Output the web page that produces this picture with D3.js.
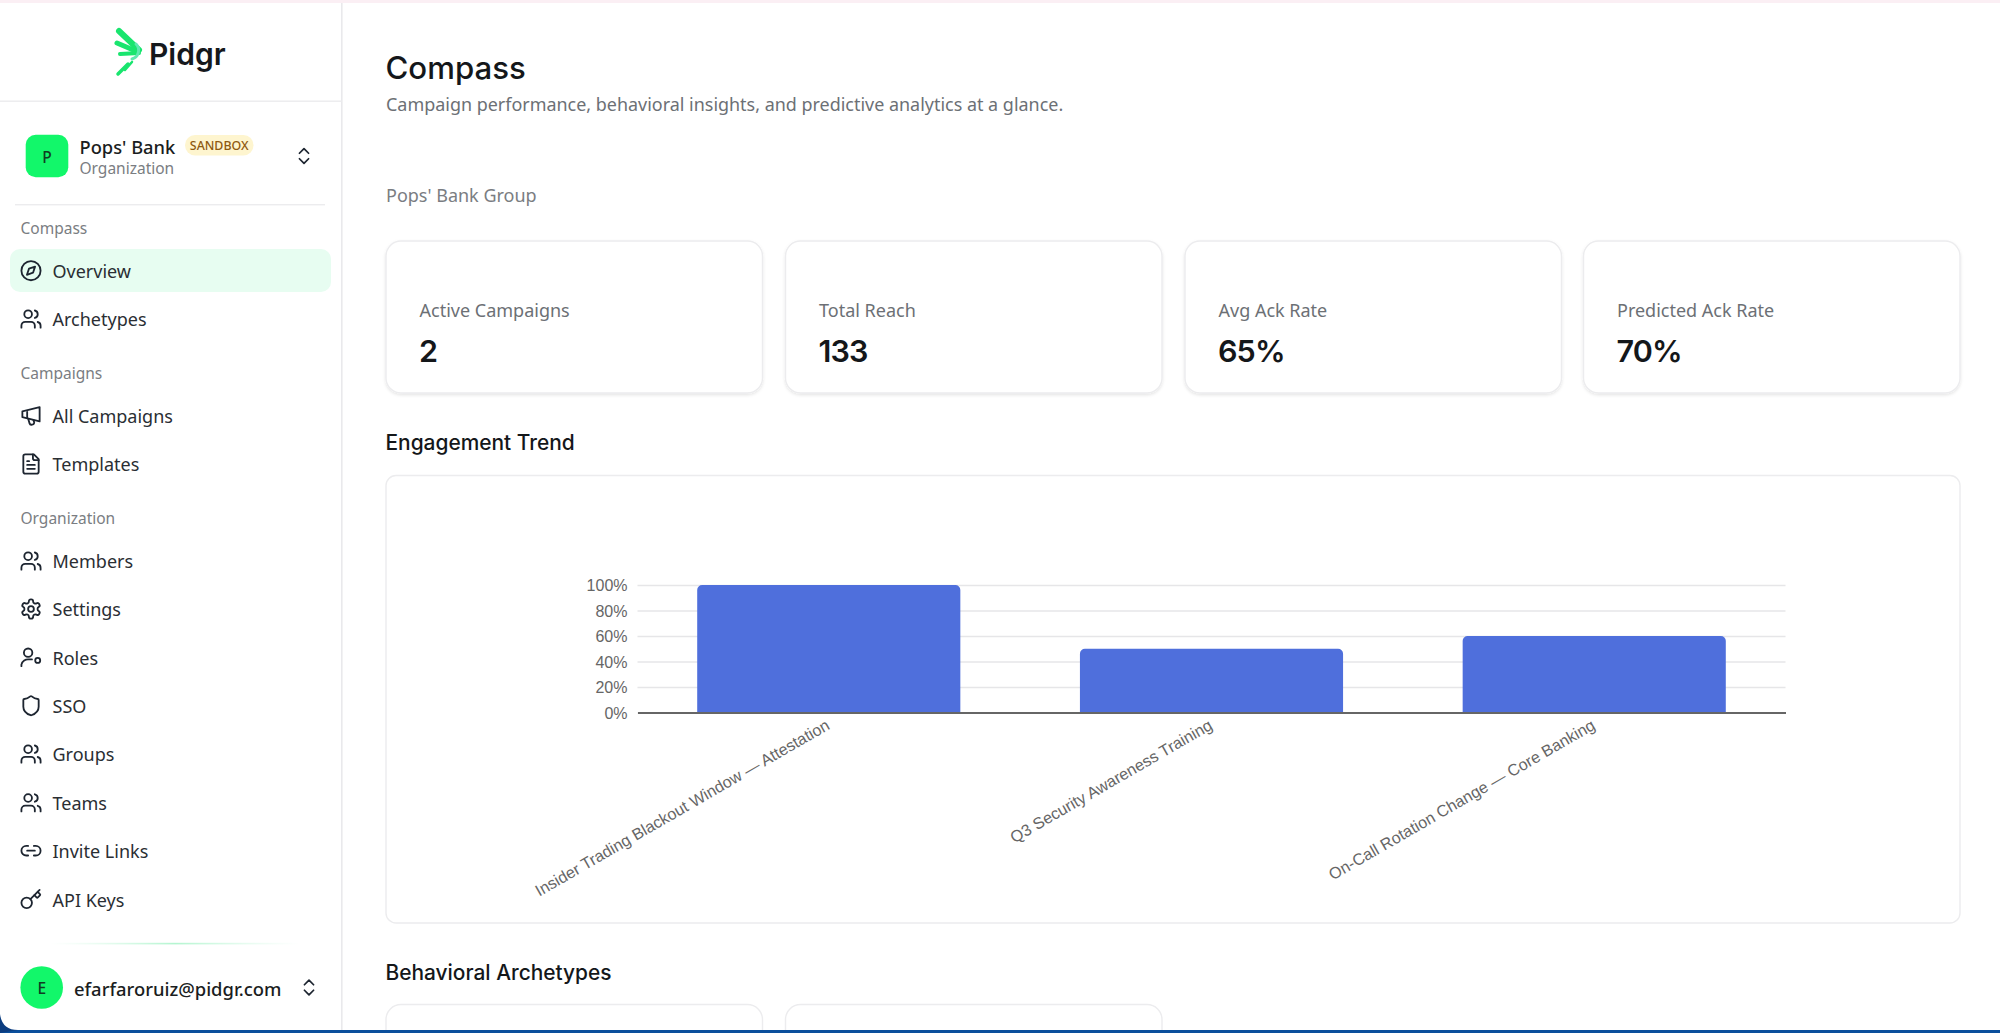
<!DOCTYPE html>
<html><head><meta charset="utf-8">
<script src="https://cdn.jsdelivr.net/npm/d3@7"></script>
<style>
html,body{margin:0;padding:0;background:#fff;overflow:hidden}
svg{display:block}
</style></head><body>
<svg id="page" width="2000" height="1033" viewBox="0 0 2000 1033"></svg>
<script>
// ---- chart data ----
const categories = ["Insider Trading Blackout Window — Attestation","Q3 Security Awareness Training","On-Call Rotation Change — Core Banking"];
const engagement = [100,50,60];
const yTicks = [0,20,40,60,80,100];
// ---- page content ----
const kpiLabels = ["Active Campaigns","Total Reach","Avg Ack Rate","Predicted Ack Rate"];
const kpiValues = ["2","133","65%","70%"];
const kpiLefts = [386,785.5,1185,1583.5];
const navItems = [["Overview","compass",270.7],["Archetypes","users",319],["All Campaigns","mega",415.7],["Templates","file",464],["Members","users",561],["Settings","gear",609],["Roles","roles",657.5],["SSO","shield",705.7],["Groups","users",754],["Teams","users",802.8],["Invite Links","link",850.7],["API Keys","key",899.5]];
const navSections = [["Compass",228],["Campaigns",372.7],["Organization",517.8]];
const ICONS = {
 compass:'<circle cx="12" cy="12" r="10"/><polygon points="16.24 7.76 14.12 14.12 7.76 16.24 9.88 9.88"/>',
 users:'<path d="M16 21v-2a4 4 0 0 0-4-4H6a4 4 0 0 0-4 4v2"/><circle cx="9" cy="7" r="4"/><path d="M22 21v-2a4 4 0 0 0-3-3.87"/><path d="M16 3.13a4 4 0 0 1 0 7.75"/>',
 mega:'<path d="M3 7.5 21 3v15L3 13.5z" transform="translate(0,0)"/><path d="M9 15l1.5 5a2 2 0 0 0 2.5 1.3l1-.3a2 2 0 0 0 1.2-2.6L14.5 16.5"/><path d="M8 8v6"/>',
 file:'<path d="M15 2H6a2 2 0 0 0-2 2v16a2 2 0 0 0 2 2h12a2 2 0 0 0 2-2V7Z"/><path d="M14 2v4a2 2 0 0 0 2 2h4"/><path d="M10 9H8"/><path d="M16 13H8"/><path d="M16 17H8"/>',
 gear:'<path d="M12.22 2h-.44a2 2 0 0 0-2 2v.18a2 2 0 0 1-1 1.73l-.43.25a2 2 0 0 1-2 0l-.15-.08a2 2 0 0 0-2.73.73l-.22.38a2 2 0 0 0 .73 2.73l.15.1a2 2 0 0 1 1 1.72v.51a2 2 0 0 1-1 1.74l-.15.09a2 2 0 0 0-.73 2.73l.22.38a2 2 0 0 0 2.73.73l.15-.08a2 2 0 0 1 2 0l.43.25a2 2 0 0 1 1 1.73V20a2 2 0 0 0 2 2h.44a2 2 0 0 0 2-2v-.18a2 2 0 0 1 1-1.73l.43-.25a2 2 0 0 1 2 0l.15.08a2 2 0 0 0 2.73-.73l.22-.39a2 2 0 0 0-.73-2.73l-.15-.08a2 2 0 0 1-1-1.74v-.5a2 2 0 0 1 1-1.74l.15-.09a2 2 0 0 0 .73-2.73l-.22-.38a2 2 0 0 0-2.73-.73l-.15.08a2 2 0 0 1-2 0l-.43-.25a2 2 0 0 1-1-1.73V4a2 2 0 0 0-2-2z"/><circle cx="12" cy="12" r="3"/>',
 roles:'<circle cx="9" cy="7" r="4.4"/><path d="M2 21v-1.5a7 7 0 0 1 8-5.5h3"/><circle cx="19" cy="15" r="2.6"/>',
 shield:'<path d="M20 13c0 5-3.5 7.5-7.66 8.95a1 1 0 0 1-.67-.01C7.5 20.5 4 18 4 13V6a1 1 0 0 1 1-1c2 0 4.5-1.2 6.24-2.72a1.17 1.17 0 0 1 1.52 0C14.51 3.81 17 5 19 5a1 1 0 0 1 1 1z"/>',
 link:'<path d="M9 17H7A5 5 0 0 1 7 7h2"/><path d="M15 7h2a5 5 0 1 1 0 10h-2"/><line x1="8" y1="12" x2="16" y2="12"/>',
 key:'<path d="m15.5 7.5 2.3 2.3a1 1 0 0 0 1.4 0l2.1-2.1a1 1 0 0 0 0-1.4L19 4"/><path d="m21 2-9.6 9.6"/><circle cx="7.5" cy="15.5" r="5.5"/>',
 chev:'<path d="m7 15 5 5 5-5"/><path d="m7 9 5-5 5 5"/>'
};
const svg = d3.select("#page");
const defs = svg.append("defs");
const f = defs.append("filter").attr("id","cardShadow").attr("x","-5%").attr("y","-5%").attr("width","110%").attr("height","115%");
f.append("feDropShadow").attr("dx",0).attr("dy",1.5).attr("stdDeviation",1.5).attr("flood-color","#000").attr("flood-opacity",0.10);
const lg = defs.append("linearGradient").attr("id","sideLine");
[[0,"#d4f9e4",0],[0.5,"#b4f5d0",1],[1,"#d4f9e4",0]].forEach(s=>lg.append("stop").attr("offset",s[0]).attr("stop-color",s[1]).attr("stop-opacity",s[2]));

function txt(g,x,y,s,size,fill,weight,family,anchor){
  return g.append("text").attr("x",x).attr("y",y).text(s).attr("font-size",size).attr("fill",fill)
    .attr("font-weight",weight||400).style("font-family",family||"'Noto Sans'").attr("text-anchor",anchor||"start").attr("dominant-baseline","central");
}
function icon(g,name,cx,cy,s,color){
  const k=s/24;
  g.append("g").attr("transform",`translate(${cx-s/2},${cy-s/2}) scale(${k})`)
   .attr("fill","none").attr("stroke",color||"#1d2530").attr("stroke-width",1.9).attr("stroke-linecap","round").attr("stroke-linejoin","round")
   .html(ICONS[name]);
}
// page frame
svg.append("rect").attr("width",2000).attr("height",1033).attr("fill","#0b4f9c");
svg.append("rect").attr("width",2000).attr("height",1030).attr("fill","#fff");
svg.append("rect").attr("width",2000).attr("height",3).attr("fill","#fbeff4");
// sidebar
const side = svg.append("g");
side.append("rect").attr("x",341).attr("y",3).attr("width",1.6).attr("height",1027).attr("fill","#e9e9ec");
side.append("rect").attr("x",0).attr("y",100.5).attr("width",342).attr("height",1.4).attr("fill","#ececee");
// logo
const logo = side.append("g").attr("fill","none").attr("stroke-linecap","round");
logo.append("path").attr("d","M119 31 L139 50").attr("stroke","#19e56e").attr("stroke-width",6);
logo.append("path").attr("d","M117 43 L138 52").attr("stroke","#19e56e").attr("stroke-width",5);
logo.append("path").attr("d","M120 54 L139 53").attr("stroke","#19e56e").attr("stroke-width",4);
logo.append("path").attr("d","M136 44 A9 9 0 0 1 132 59").attr("stroke","#5fe8b0").attr("stroke-width",3);
logo.append("path").attr("d","M118 74 L128 64").attr("stroke","#19e56e").attr("stroke-width",3.5);
logo.append("path").attr("d","M125 70 L132 62").attr("stroke","#19e56e").attr("stroke-width",2.5);
txt(side,149,54,"Pidgr",30,"#15181c",600,"Inter");
// org
side.append("rect").attr("x",25.7).attr("y",134.7).attr("width",42.6).attr("height",42.6).attr("rx",10).attr("fill","#12f76a");
txt(side,47,156.5,"P",15.5,"#0f3d22",500,null,"middle");
txt(side,79.5,146,"Pops' Bank",18.3,"#1a1d21",500);
txt(side,79.5,168,"Organization",15.5,"#7a7d82",400);
side.append("rect").attr("x",185).attr("y",135).attr("width",68.5).attr("height",20.5).attr("rx",10).attr("fill","#fef5cf");
txt(side,219.2,145.5,"SANDBOX",12.4,"#8f5a10",500,null,"middle");
icon(side,"chev",304,156,22,"#1d2530");
side.append("rect").attr("x",15).attr("y",204).attr("width",310).attr("height",1.4).attr("fill","#ececee");
side.append("rect").attr("x",10).attr("y",249).attr("width",321).attr("height",43).attr("rx",10).attr("fill","#e7fdf1");
navSections.forEach(d=>txt(side,20.5,d[1],d[0],15.5,"#7a7d82",400));
navItems.forEach(d=>{ icon(side,d[1],31,d[2],23,"#1d2530"); txt(side,52.5,d[2],d[0],18,"#2a2e33",400); });
side.append("rect").attr("x",50).attr("y",942.8).attr("width",250).attr("height",1.6).attr("fill","url(#sideLine)");
side.append("circle").attr("cx",41.7).attr("cy",987.5).attr("r",21.3).attr("fill","#12f76a");
txt(side,41.7,988,"E",15.5,"#0f3d22",500,null,"middle");
txt(side,74,988.5,"efarfaroruiz@pidgr.com",18.4,"#1a1d21",500);
icon(side,"chev",309,987.5,22,"#1d2530");
// main header
const main = svg.append("g");
txt(main,385.5,68,"Compass",31.2,"#14171a",500,"Inter");
txt(main,386,104,"Campaign performance, behavioral insights, and predictive analytics at a glance.",17.95,"#6c7075",400);
txt(main,386,195,"Pops' Bank Group",18,"#7a7d82",400);
// KPI cards
const cardW = 376.5;
kpiLabels.forEach((lab,i)=>{
  main.append("rect").attr("x",kpiLefts[i]).attr("y",241).attr("width",cardW).attr("height",152).attr("rx",15)
    .attr("fill","#fff").attr("stroke","#ececee").attr("stroke-width",1.4).attr("filter","url(#cardShadow)");
  txt(main,kpiLefts[i]+33.5,310,lab,18,"#6c7075",400);
  txt(main,kpiLefts[i]+33,350.5,kpiValues[i],30.5,"#14171a",600,"Inter").attr("letter-spacing",-0.9);
});
txt(main,385.5,442,"Engagement Trend",20.9,"#14171a",500,"Inter");
main.append("rect").attr("x",386).attr("y",475.5).attr("width",1574).attr("height",447.5).attr("rx",10)
  .attr("fill","#fff").attr("stroke","#ececee").attr("stroke-width",1.4);
txt(main,385.5,972,"Behavioral Archetypes",20.9,"#14171a",500,"Inter");
[386,785.5].forEach(x=>{
  main.append("rect").attr("x",x).attr("y",1004.5).attr("width",cardW).attr("height",60).attr("rx",15)
    .attr("fill","#fff").attr("stroke","#ececee").attr("stroke-width",1.4);
});
svg.append("rect").attr("y",1030).attr("width",2000).attr("height",3).attr("fill","#0b4f9c");
svg.append("path").attr("d","M0 1014 Q2 1030 18 1030 L0 1033Z").attr("fill","#0b3d80");
// chart
const x = d3.scaleBand().domain(categories).range([637.5,1785.5]).paddingInner(0.3125).paddingOuter(0.156);
const y = d3.scaleLinear().domain([0,100]).range([712.5,585]);
const chart = svg.append("g");
const yAxis = d3.axisLeft(y).tickValues(yTicks).tickFormat(d=>d+"%").tickSize(-1148).tickPadding(10);
const ya = chart.append("g").attr("transform","translate(637.5,0)").call(yAxis);
ya.select(".domain").remove();
ya.selectAll(".tick line").attr("stroke","#e6e6e8").attr("stroke-width",1.6);
ya.selectAll(".tick text").style("font-family","'Liberation Sans'").attr("font-size",16).attr("fill","#666").attr("dy","0.36em");
const r = 5;
chart.selectAll("path.bar").data(categories).join("path").attr("class","bar").attr("fill","#4f6fdc")
  .attr("d",(c,i)=>{
    const x0=x(c),x1=x0+x.bandwidth(),y0=y(0),yt=y(engagement[i]);
    const p=d3.path();
    p.moveTo(x0,y0);p.lineTo(x0,yt+r);p.arcTo(x0,yt,x0+r,yt,r);p.lineTo(x1-r,yt);p.arcTo(x1,yt,x1,yt+r,r);p.lineTo(x1,y0);p.closePath();
    return p.toString();
  });
const xAxis = d3.axisBottom(x).tickSize(0).tickPadding(0);
const xa = chart.append("g").attr("transform",`translate(0,${y(0)})`).call(xAxis);
xa.select(".domain").attr("stroke","#666").attr("stroke-width",1.8);
xa.selectAll(".tick text").style("font-family","'Liberation Sans'").attr("font-size",16.2).attr("fill","#666")
  .attr("text-anchor","end").attr("dy",0).attr("y",0)
  .attr("transform","translate(2,16) rotate(-30)");
</script></body></html>
